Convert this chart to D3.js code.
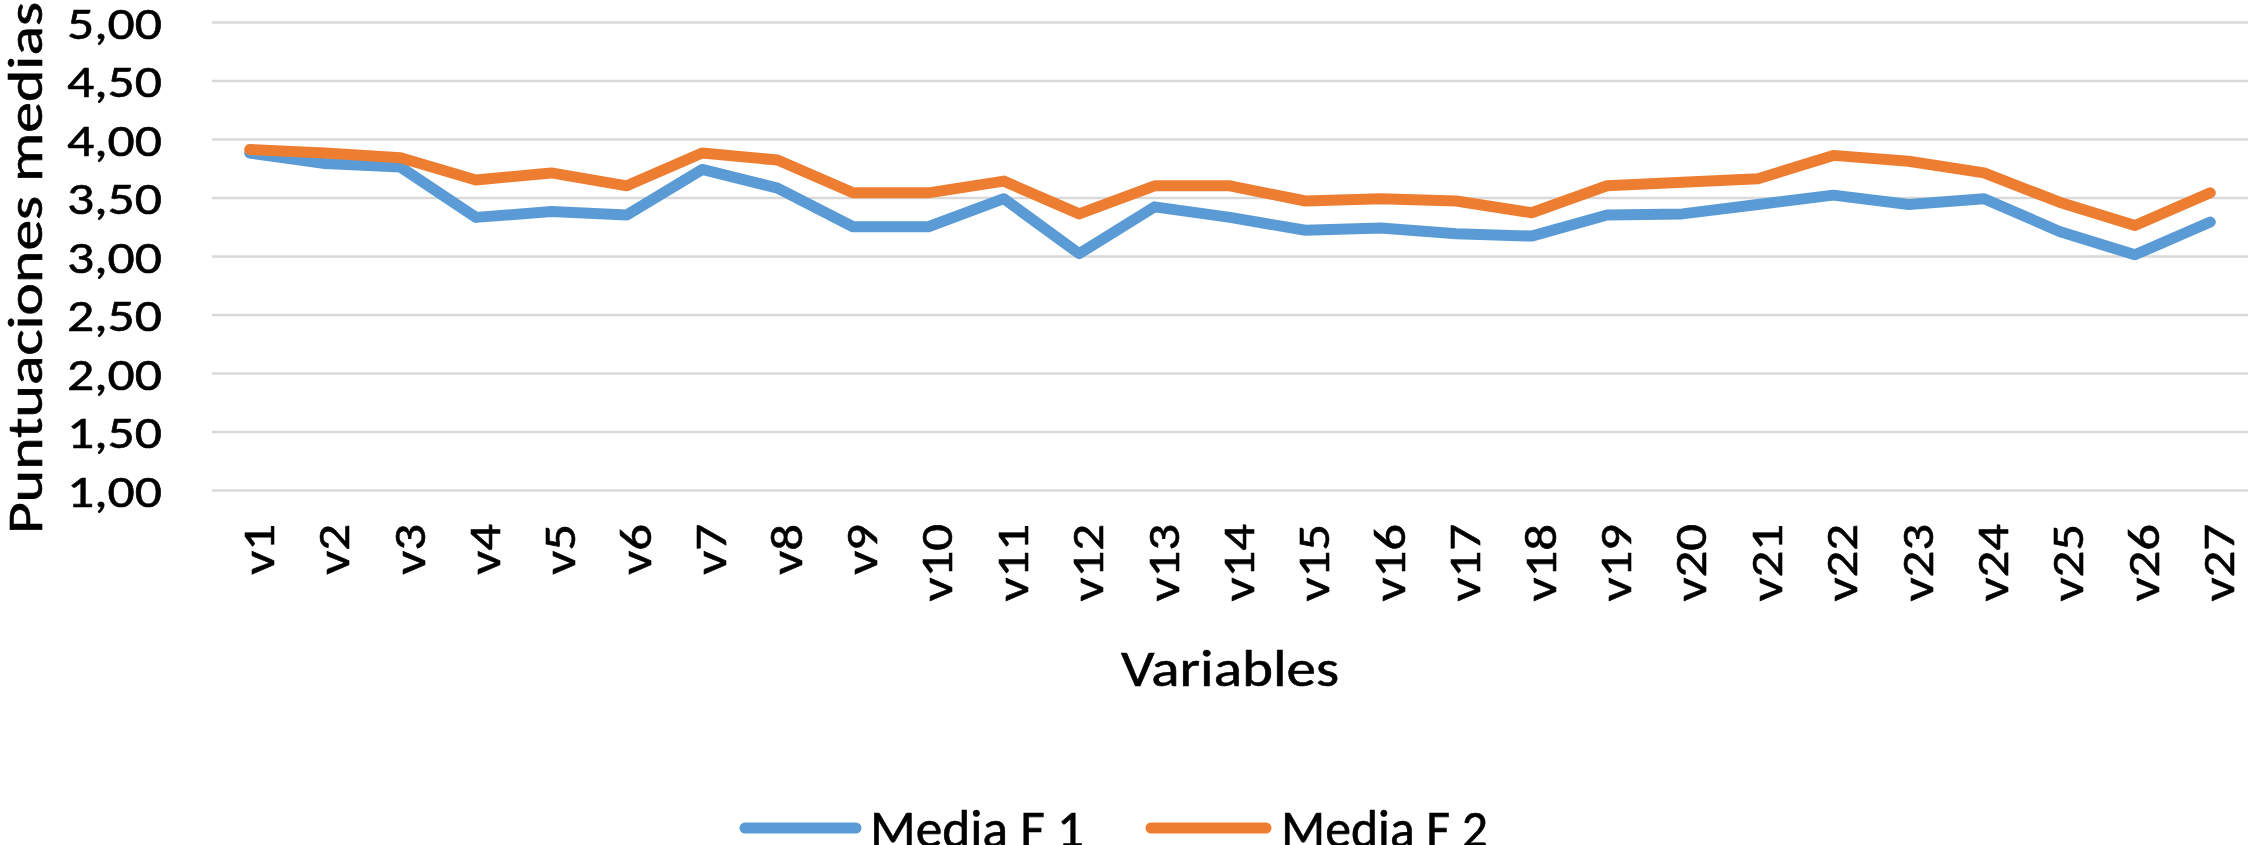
<!DOCTYPE html>
<html>
<head>
<meta charset="utf-8">
<script src="https://cdn.jsdelivr.net/npm/d3@7"></script>
<style>
  html, body { margin: 0; padding: 0; background: #fff; }
  svg { display: block; }
  text { font-family: Carlito, Lato, "Liberation Sans", sans-serif; fill: #000; stroke: #000; stroke-width: 0.6; }
</style>
</head>
<body>
<div id="chart"></div>
<script>
// ---- data ----
const categories = ["v1","v2","v3","v4","v5","v6","v7","v8","v9","v10","v11","v12","v13","v14","v15","v16","v17","v18","v19","v20","v21","v22","v23","v24","v25","v26","v27"];
const mediaF1 = [3.88,3.79,3.76,3.33,3.38,3.35,3.74,3.58,3.25,3.25,3.49,3.02,3.42,3.33,3.22,3.24,3.19,3.17,3.35,3.36,3.44,3.52,3.44,3.49,3.21,3.01,3.29];
const mediaF2 = [3.91,3.88,3.84,3.65,3.71,3.60,3.88,3.82,3.54,3.54,3.64,3.36,3.60,3.60,3.47,3.49,3.47,3.37,3.60,3.63,3.66,3.86,3.81,3.71,3.46,3.26,3.54];
const yTicks = [1, 1.5, 2, 2.5, 3, 3.5, 4, 4.5, 5];
const seriesNames = ["Media F 1", "Media F 2"];
const seriesColors = ["#5B9BD5", "#ED7D31"];
const yTitle = "Puntuaciones medias";
const xTitle = "Variables";

// ---- layout ----
const W = 2248, H = 845;
const plot = { left: 212, right: 2248, top: 22, bottom: 490 };

const svg = d3.select("#chart").append("svg").attr("width", W).attr("height", H);

const x = d3.scaleBand().domain(categories).range([plot.left, plot.right]).padding(0);
const xc = c => x(c) + x.bandwidth() / 2;
const y = d3.scaleLinear().domain([1, 5]).range([plot.bottom, plot.top]);

function stretch(sel, k) {
  sel.each(function() {
    const n = this.getComputedTextLength();
    d3.select(this).attr("textLength", n * k).attr("lengthAdjust", "spacingAndGlyphs");
  });
}
function fixLen(sel, len) {
  sel.attr("textLength", len).attr("lengthAdjust", "spacingAndGlyphs");
}

// gridlines via axis
const yAxisGrid = d3.axisLeft(y).tickValues(yTicks).tickSize(-(plot.right - plot.left)).tickFormat("");
const gGrid = svg.append("g").attr("transform", `translate(${plot.left},0)`).call(yAxisGrid);
gGrid.select(".domain").remove();
gGrid.selectAll(".tick line").attr("stroke", "#D9D9D9").attr("stroke-width", 2.5);

// y tick labels
const fmt = v => d3.format(".2f")(v).replace(".", ",");
const tickFs = 46;
const yLab = svg.append("g").selectAll("text").data(yTicks).join("text")
  .attr("x", 162)
  .attr("y", d => y(d) + tickFs * 0.36)
  .attr("text-anchor", "end")
  .attr("font-size", tickFs)
  .text(fmt);
fixLen(yLab, 95);

// x tick labels (rotated)
const xLab = svg.append("g").selectAll("text").data(categories).join("text")
  .attr("transform", d => `translate(${xc(d) + 24},524) rotate(-90)`)
  .attr("text-anchor", "end")
  .attr("font-size", tickFs)
  .text(d => d);
stretch(xLab, 1.15);

// axis titles
const yt = svg.append("text")
  .attr("transform", `translate(42,268) rotate(-90)`)
  .attr("text-anchor", "middle")
  .attr("font-size", 49)
  .text(yTitle);
fixLen(yt, 532);

const xt = svg.append("text")
  .attr("x", (plot.left + plot.right) / 2)
  .attr("y", 686)
  .attr("text-anchor", "middle")
  .attr("font-size", 52)
  .text(xTitle);
fixLen(xt, 218);

// lines
const line = d3.line().x((d, i) => xc(categories[i])).y(d => y(d));
[mediaF1, mediaF2].forEach((s, i) => {
  svg.append("path").datum(s)
    .attr("fill", "none")
    .attr("stroke", seriesColors[i])
    .attr("stroke-width", 11)
    .attr("stroke-linejoin", "round")
    .attr("stroke-linecap", "round")
    .attr("d", line);
});

// legend
const legendItems = [
  { name: seriesNames[0], color: seriesColors[0], x1: 745, x2: 856, tx: 870, len: 214 },
  { name: seriesNames[1], color: seriesColors[1], x1: 1151, x2: 1266, tx: 1281, len: 207 }
];
const lg = svg.append("g");
legendItems.forEach(it => {
  lg.append("line").attr("x1", it.x1).attr("x2", it.x2).attr("y1", 828).attr("y2", 828)
    .attr("stroke", it.color).attr("stroke-width", 11).attr("stroke-linecap", "round");
  const t = lg.append("text").attr("x", it.tx).attr("y", 847).attr("font-size", 54).text(it.name);
  fixLen(t, it.len);
});
</script>
</body>
</html>
